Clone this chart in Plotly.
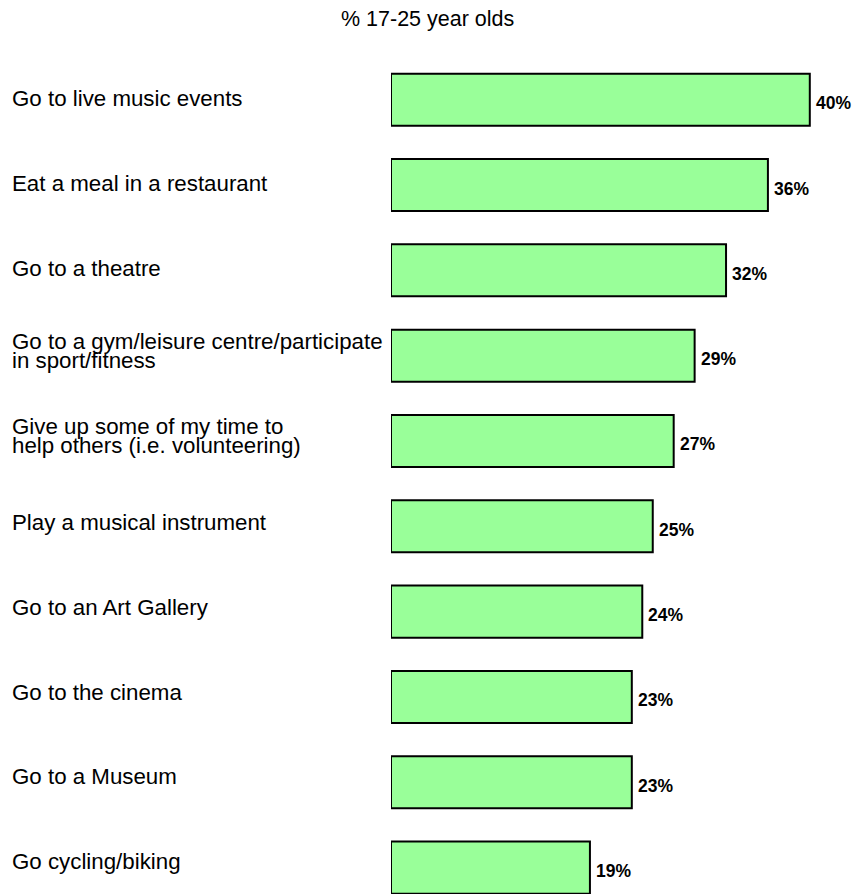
import plotly.graph_objects as go

categories = [
    "Go to live music events",
    "Eat a meal in a restaurant",
    "Go to a theatre",
    "Go to a gym/leisure centre/participate<br>in sport/fitness",
    "Give up some of my time to<br>help others (i.e. volunteering)",
    "Play a musical instrument",
    "Go to an Art Gallery",
    "Go to the cinema",
    "Go to a Museum",
    "Go cycling/biking",
]
values = [40, 36, 32, 29, 27, 25, 24, 23, 23, 19]
title_text = "% 17-25 year olds"

FONT = "Liberation Sans, Arial, sans-serif"
W, H = 855, 894
L, T, R = 391, 57, 0
px_per_unit = 10.47
plot_w = W - L - R
xmax = plot_w / px_per_unit
cat_px = 85.33
ybottom = -0.5 + (H - T) / cat_px
plot_h = H - T

fig = go.Figure()
fig.add_trace(go.Bar(
    x=values,
    y=list(range(len(categories))),
    orientation="h",
    width=0.61,
    marker=dict(color="#99FF99", line=dict(color="black", width=2)),
    hoverinfo="skip",
))

annotations = []
for i, (cat, v) in enumerate(zip(categories, values)):
    lines = cat.split("<br>")
    drift = 0.55 * i
    shifts = [1 + drift] if len(lines) == 1 else [12.6 + drift, -6.4 + drift]
    for line, s in zip(lines, shifts):
        annotations.append(dict(
            x=(10 - L) / plot_w, xref="paper", xanchor="left",
            y=i, yref="y", yanchor="middle", yshift=s,
            text=line, showarrow=False,
            font=dict(family=FONT, size=22.3, color="black"),
        ))
    annotations.append(dict(
        x=v, xref="x", xanchor="left", xshift=4,
        y=i, yref="y", yanchor="middle", yshift=-3.5,
        text=f"<b>{v}%</b>", showarrow=False,
        font=dict(family=FONT, size=17.5, color="black"),
    ))

annotations.append(dict(
    x=(W / 2 - L) / plot_w, xref="paper", xanchor="center",
    y=1 + (T - 19.5) / plot_h, yref="paper", yanchor="middle",
    text=title_text, showarrow=False,
    font=dict(family=FONT, size=21.5, color="black"),
))

fig.update_layout(
    width=W, height=H,
    margin=dict(l=L, r=R, t=T, b=0, pad=0),
    paper_bgcolor="white", plot_bgcolor="white",
    showlegend=False,
    xaxis=dict(range=[0, xmax], visible=False, fixedrange=True),
    yaxis=dict(range=[ybottom, -0.5], visible=False, fixedrange=True),
    annotations=annotations,
    font=dict(family=FONT),
)

fig.write_html(
    "out.html",
    config={"displayModeBar": False},
    post_script="document.body.style.margin='0';document.body.style.overflow='hidden';",
)
